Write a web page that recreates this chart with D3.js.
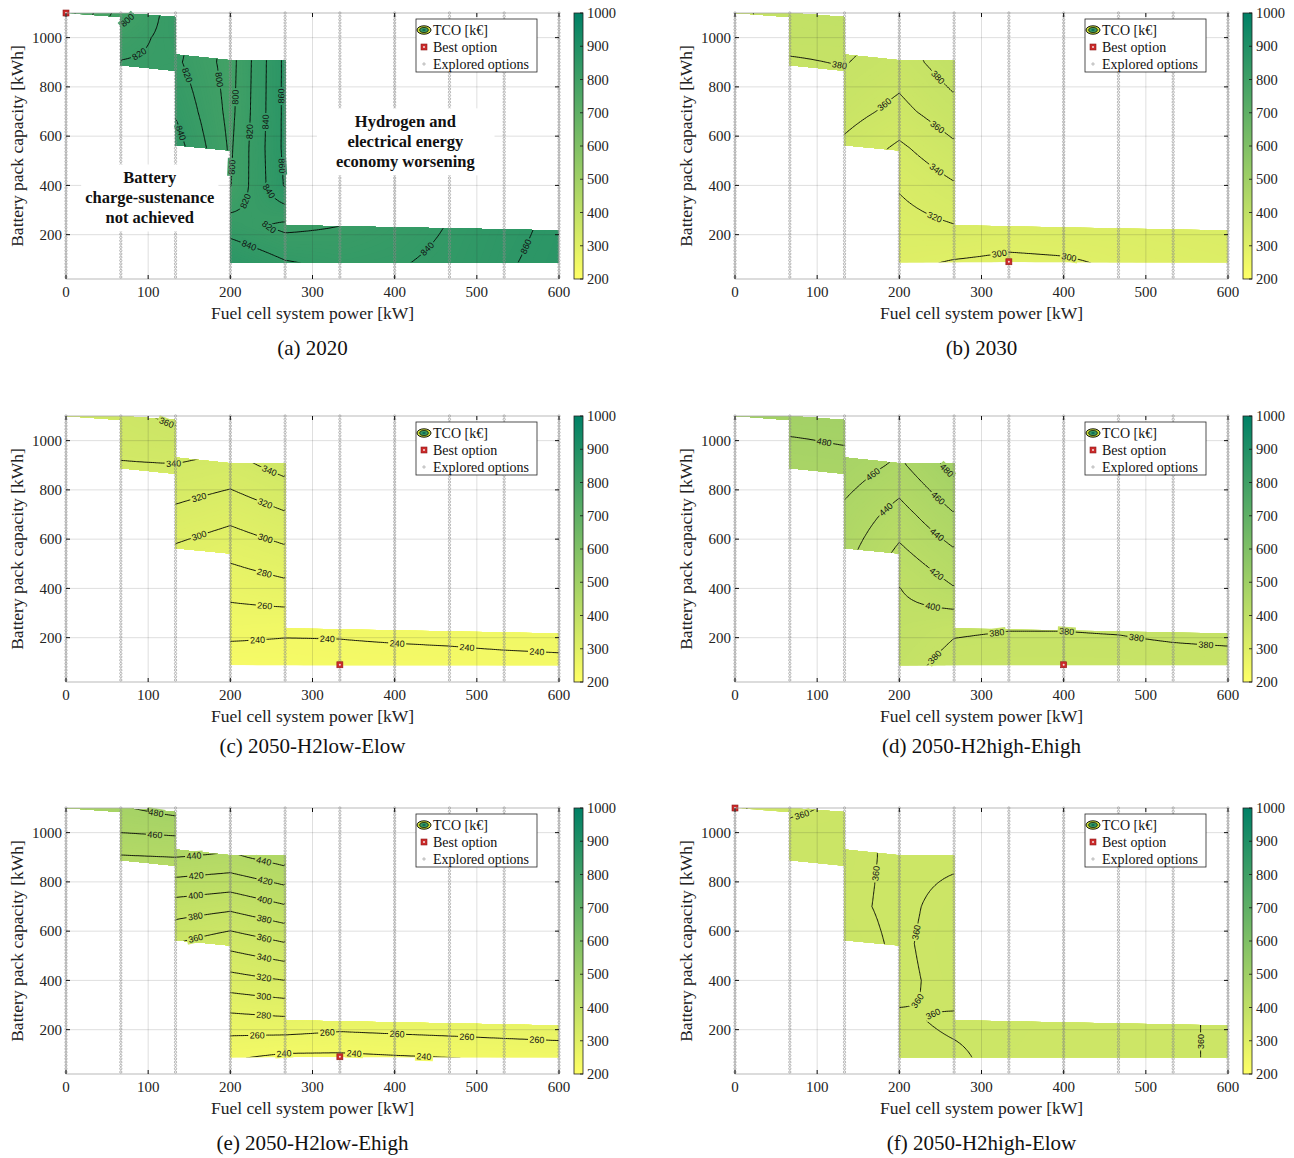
<!DOCTYPE html>
<html>
<head>
<meta charset="utf-8">
<script src="https://cdn.jsdelivr.net/npm/d3@7"></script>
<style>
  body { margin: 0; background: #fff; }
  svg text { font-family: "Liberation Serif", "Times New Roman", serif; }
</style>
</head>
<body>
<svg id="fig" width="1294" height="1158"></svg>
<script>
// explored fuel cell system sizes [kW] = columns of the TCO tables
const fcPower = [0, 66.7, 133.3, 200, 266.7, 333.3, 400, 466.7, 533.3, 600];
// battery capacities [kWh] at which the TCO was read = rows of the tables (bottom to top)
const capKnots = [85, 235, 400, 550, 700, 900, 1000, 1100];
// explored battery sizes (regular design grid)
const capMin = 28, capMax = 1100, capCount = 81;

// TCO [k€], null = outside the charge-sustaining region
const tco2020 = [
  [null, null, null, 860, 842, 835, 838, 845, 858, 866],
  [null, null, null, 830, 815, 820, 830, 841, 855, 864],
  [null, null, 845, 799, 862, null, null, null, null, null],
  [null, null, 850, 797, 865, null, null, null, null, null],
  [null, 822, 838, 794, 865, null, null, null, null, null],
  [null, 821, 824, 792, 865, null, null, null, null, null],
  [730, 810, 828, 792, 865, null, null, null, null, null],
  [730, 790, 832, null, null, null, null, null, null, null]
];
const tco2030 = [
  [null, null, null, 305, 298, 295, 297, 303, 306, 309],
  [null, null, null, 312, 319, 312, 313, 312, 314, 316],
  [null, null, 345, 322, 338, null, null, null, null, null],
  [null, null, 355, 336, 356, null, null, null, null, null],
  [null, 372, 368, 354, 373, null, null, null, null, null],
  [null, 378, 381, 370, 392, null, null, null, null, null],
  [375, 386, 386, 375, 397, null, null, null, null, null],
  [375, 390, 395, null, null, null, null, null, null, null]
];
const tcoH2lowElow = [
  [null, null, null, 227, 229, 232, 232, 233, 234, 235],
  [null, null, null, 246.5, 243.5, 243, 245, 246, 248, 249],
  [null, null, 285, 267, 274, null, null, null, null, null],
  [null, null, 296, 286, 296, null, null, null, null, null],
  [null, 330, 315, 306, 318, null, null, null, null, null],
  [null, 338, 339, 333, 347, null, null, null, null, null],
  [352, 348, 354, 345, 360, null, null, null, null, null],
  [352, 355, 364, null, null, null, null, null, null, null]
];
const tcoH2highEhigh = [
  [null, null, null, 386, 374, 372, 372, 372, 373, 373],
  [null, null, null, 392, 382, 380.5, 380.5, 381.5, 384, 386],
  [null, null, 435, 399.5, 419, null, null, null, null, null],
  [null, null, 447, 416, 438, null, null, null, null, null],
  [null, 465, 455, 432, 459, null, null, null, null, null],
  [null, 470, 472, 456, 487, null, null, null, null, null],
  [492, 478, 482, 465, 495, null, null, null, null, null],
  [492, 490, 490, null, null, null, null, null, null, null]
];
const tcoH2lowEhigh = [
  [null, null, null, 242, 235, 235, 237.5, 239.5, 242, 244],
  [null, null, null, 272, 275, 270, 272, 274, 276, 278],
  [null, null, 322, 312, 320, null, null, null, null, null],
  [null, null, 360, 347, 359, null, null, null, null, null],
  [null, 430, 391, 385, 398, null, null, null, null, null],
  [null, 438, 440, 436, 449, null, null, null, null, null],
  [470, 460, 463, 455, 470, null, null, null, null, null],
  [470, 478, 488, null, null, null, null, null, null, null]
];
const tcoH2highElow = [
  [null, null, null, 362, 361, 358, 357, 357, 358, 362],
  [null, null, null, 361, 359, 358.5, 357.5, 357.5, 358, 362],
  [null, null, 364, 358, 363, null, null, null, null, null],
  [null, null, 364, 358.5, 364, null, null, null, null, null],
  [null, 364, 362, 358, 363, null, null, null, null, null],
  [null, 364, 363, 358, 358.5, null, null, null, null, null],
  [335, 363, 363, 358, 358, null, null, null, null, null],
  [335, 358, 362, null, null, null, null, null, null, null]
];

// boundary of the charge-sustaining region
const regionPower = [0, 66.7, 133.3, 133.3, 200, 266.7, 266.7, 600, 600, 200, 200, 133.3, 133.3, 66.7, 66.7];
const regionCap   = [1100, 1100, 1084, 931, 908, 908, 238, 217, 88, 88, 542, 563, 866, 888, 1084];

const captions = ['(a) 2020', '(b) 2030', '(c) 2050-H2low-Elow', '(d) 2050-H2high-Ehigh', '(e) 2050-H2low-Ehigh', '(f) 2050-H2high-Elow'];
const tables = [tco2020, tco2030, tcoH2lowElow, tcoH2highEhigh, tcoH2lowEhigh, tcoH2highElow];
const bestPower = [0, 333.3, 333.3, 400, 333.3, 0];
const bestCap = [1100, 90, 90, 90, 90, 1100];

const xTicks = [0, 100, 200, 300, 400, 500, 600];
const yTicks = [200, 400, 600, 800, 1000];
const cbTicks = [200, 300, 400, 500, 600, 700, 800, 900, 1000];
const contourLevels = [240, 260, 280, 300, 320, 340, 360, 380, 400, 420, 440, 460, 480, 500,
                       720, 740, 760, 780, 800, 820, 840, 860, 880];

const noteText = [['Battery', 'charge-sustenance', 'not achieved'], ['Hydrogen and', 'electrical energy', 'economy worsening']];
const notePower = [102, 413];
const noteCap = [350, 578];
const notePad = [4, 19];

// layout
const colLeft = [66, 735], plotW = 493;
const rowTop = [13, 416, 808], plotH = 266;
const captionY = [348, 746, 1143];

const svg = d3.select('#fig');
const colour = d3.scaleLinear().domain([200, 1000]).range(['#ffff66', '#008066']).clamp(true); // MATLAB summer

const defs = svg.append('defs');
const grad = defs.append('linearGradient').attr('id', 'summer')
  .attr('x1', 0).attr('y1', 1).attr('x2', 0).attr('y2', 0);
grad.append('stop').attr('offset', 0).attr('stop-color', colour(200));
grad.append('stop').attr('offset', 1).attr('stop-color', colour(1000));

// sampling grid for contours
const GX0 = -10, GDX = 2.5, GN = 249;
const GY0 = 10, GDY = 5, GM = 221;

function makeField(table) {
  const filled = table.map(r => r.slice());
  for (let c = 0; c < fcPower.length; c++) {
    for (let r = 0; r < capKnots.length; r++) {
      if (filled[r][c] == null) {
        let best = null, bd = Infinity;
        table.forEach((row, k) => {
          if (row[c] != null && Math.abs(k - r) < bd) { bd = Math.abs(k - r); best = row[c]; }
        });
        filled[r][c] = best;
      }
    }
  }
  return (x, y) => {
    x = Math.max(0, Math.min(600, x));
    y = Math.max(85, Math.min(1100, y));
    const i = Math.max(0, Math.min(fcPower.length - 2, d3.bisectRight(fcPower, x) - 1));
    const j = Math.max(0, Math.min(capKnots.length - 2, d3.bisectRight(capKnots, y) - 1));
    const tx = (x - fcPower[i]) / (fcPower[i + 1] - fcPower[i]);
    const ty = (y - capKnots[j]) / (capKnots[j + 1] - capKnots[j]);
    return (1 - tx) * (1 - ty) * filled[j][i] + tx * (1 - ty) * filled[j][i + 1]
      + (1 - tx) * ty * filled[j + 1][i] + tx * ty * filled[j + 1][i + 1];
  };
}

function drawPanel(k) {
  const col = k % 2, row = Math.floor(k / 2);
  const x0 = colLeft[col], y0 = rowTop[row];
  const xS = d3.scaleLinear().domain([0, 600]).range([x0, x0 + plotW]);
  const yS = d3.scaleLinear().domain([20, 1100]).range([y0 + plotH, y0]);
  const g = svg.append('g');
  const f = makeField(tables[k]);

  const values = new Float64Array(GN * GM);
  for (let j = 0; j < GM; j++)
    for (let i = 0; i < GN; i++)
      values[j * GN + i] = f(GX0 + i * GDX, GY0 + j * GDY);

  const toPx = c => [xS(GX0 + (c[0] - 0.5) * GDX), yS(GY0 + (c[1] - 0.5) * GDY)];
  const pathOf = mp => mp.coordinates.map(poly => poly.map(ring =>
    'M' + ring.map(c => { const q = toPx(c); return q[0].toFixed(1) + ',' + q[1].toFixed(1); }).join('L') + 'Z'
  ).join('')).join('');

  const regionPx = regionPower.map((v, i) => [xS(v), yS(regionCap[i])]);
  const clipId = 'region' + k;
  defs.append('clipPath').attr('id', clipId)
    .append('polygon').attr('points', regionPx.map(q => q.join(',')).join(' '));

  // filled contour
  const fillG = g.append('g').attr('clip-path', `url(#${clipId})`);
  const [lo, hi] = d3.extent(values);
  const t0 = Math.floor(lo / 2) * 2;
  fillG.append('polygon').attr('points', regionPx.map(q => q.join(',')).join(' ')).attr('fill', colour(t0));
  const gen = d3.contours().size([GN, GM]);
  for (let t = t0 + 2; t < hi; t += 2) {
    fillG.append('path').attr('d', pathOf(gen.contour(values, t)))
      .attr('fill', colour(t + 1)).attr('fill-rule', 'evenodd');
  }

  // contour lines + inline labels
  const labelG = g.append('g');
  function placeLabels(pts, level) {
    const inside = pts.map(q => d3.polygonContains(regionPx, q));
    let start = inside.indexOf(false);
    if (start < 0) start = 0;
    const n = pts.length, runs = [];
    let run = [];
    for (let s = 0; s <= n; s++) {
      const idx = (start + s) % n;
      if (s < n && inside[idx]) run.push(pts[idx]);
      else { if (run.length > 1) runs.push(run); run = []; }
    }
    runs.forEach(r => {
      const cum = [0];
      for (let i = 1; i < r.length; i++) cum.push(cum[i - 1] + Math.hypot(r[i][0] - r[i - 1][0], r[i][1] - r[i - 1][1]));
      const L = cum[cum.length - 1];
      if (L < 16) return;
      const at = s => {
        s = Math.max(0, Math.min(L, s));
        let i = d3.bisectRight(cum, s) - 1;
        i = Math.max(0, Math.min(r.length - 2, i));
        const seg = cum[i + 1] - cum[i] || 1, u = (s - cum[i]) / seg;
        return [r[i][0] + u * (r[i + 1][0] - r[i][0]), r[i][1] + u * (r[i + 1][1] - r[i][1])];
      };
      const spots = L < 45 ? [L / 2] : d3.range(20, L - 10, 70);
      spots.forEach(s => {
        const q = at(s), a = at(s - 5), b = at(s + 5);
        let ang = Math.atan2(b[1] - a[1], b[0] - a[0]) * 180 / Math.PI;
        if (ang > 90) ang -= 180;
        if (ang < -90) ang += 180;
        const lab = labelG.append('g').attr('transform', `translate(${q[0].toFixed(1)},${q[1].toFixed(1)}) rotate(${ang.toFixed(1)})`);
        const bg = lab.append('rect');
        const tx = lab.append('text').text(level).attr('text-anchor', 'middle').attr('dy', '0.35em')
          .style('font-family', '"Liberation Sans", Arial, sans-serif').style('font-size', '9px').attr('fill', '#111');
        const w = tx.node().getComputedTextLength();
        bg.attr('x', -w / 2 - 1.5).attr('y', -4.5).attr('width', w + 3).attr('height', 9)
          .attr('fill', colour(f(xS.invert(q[0]), yS.invert(q[1]))));
      });
    });
  }
  contourLevels.filter(l => l > lo && l < hi).forEach(l => {
    const mp = gen.contour(values, l);
    fillG.append('path').attr('d', pathOf(mp)).attr('fill', 'none')
      .attr('stroke', '#000').attr('stroke-width', 0.9);
    mp.coordinates.forEach(poly => poly.forEach(ring => placeLabels(ring.map(toPx), l)));
  });

  // grid
  const gridG = g.append('g').attr('stroke', '#262626').attr('stroke-opacity', 0.15).attr('stroke-width', 1);
  xTicks.slice(1, -1).forEach(v => gridG.append('line')
    .attr('x1', xS(v)).attr('x2', xS(v)).attr('y1', y0).attr('y2', y0 + plotH));
  yTicks.forEach(v => gridG.append('line')
    .attr('x1', x0).attr('x2', x0 + plotW).attr('y1', yS(v)).attr('y2', yS(v)));

  // explored options
  const capGrid = d3.range(capCount).map(i => capMin + i * (capMax - capMin) / (capCount - 1));
  const dotG = g.append('g').attr('fill', 'none').attr('stroke', '#8a8a8a').attr('stroke-width', 0.6);
  fcPower.forEach(p => capGrid.forEach(c => dotG.append('circle')
    .attr('cx', xS(p)).attr('cy', yS(c)).attr('r', 1.15)));

  // best option
  g.append('rect').attr('x', xS(bestPower[k]) - 3).attr('y', yS(bestCap[k]) - 3)
    .attr('width', 6).attr('height', 6).attr('fill', '#cc2a2a').attr('stroke', '#8e1b1b').attr('stroke-width', 0.6);
  g.append('circle').attr('cx', xS(bestPower[k])).attr('cy', yS(bestCap[k])).attr('r', 1)
    .attr('fill', '#f2dede').attr('stroke', 'none');

  // annotations (2020 only)
  if (k === 0) {
    noteText.forEach((lines, n) => {
      const ng = g.append('g');
      const bg = ng.append('rect').attr('fill', '#fff');
      const t = ng.append('text').attr('text-anchor', 'middle').style('font-weight', 'bold').style('font-size', '16.5px')
        .attr('fill', '#111');
      lines.forEach((s, i) => t.append('tspan').attr('x', xS(notePower[n]))
        .attr('y', yS(noteCap[n]) + (i - 1) * 20).attr('dy', '0.35em').text(s));
      const bb = t.node().getBBox();
      bg.attr('x', bb.x - notePad[n]).attr('y', bb.y - 4).attr('width', bb.width + 2 * notePad[n]).attr('height', bb.height + 8);
    });
  }

  // legend
  const lg = g.append('g').attr('transform', `translate(${x0 + plotW - 22 - 121},${y0 + 6})`);
  lg.append('rect').attr('width', 121).attr('height', 53).attr('fill', '#fff')
    .attr('stroke', '#262626').attr('stroke-width', 0.8);
  lg.append('ellipse').attr('cx', 8).attr('cy', 11).attr('rx', 7).attr('ry', 4.2)
    .attr('fill', '#c9dc3c').attr('stroke', '#000').attr('stroke-width', 0.9);
  lg.append('ellipse').attr('cx', 8).attr('cy', 11).attr('rx', 4.3).attr('ry', 2.5)
    .attr('fill', '#3a9a62').attr('stroke', '#000').attr('stroke-width', 0.7);
  lg.append('ellipse').attr('cx', 8).attr('cy', 11).attr('rx', 1.8).attr('ry', 1)
    .attr('fill', '#0d6b55');
  lg.append('rect').attr('x', 5).attr('y', 25).attr('width', 6).attr('height', 6)
    .attr('fill', '#cc2a2a').attr('stroke', '#8e1b1b').attr('stroke-width', 0.6);
  lg.append('circle').attr('cx', 8).attr('cy', 28).attr('r', 1).attr('fill', '#f2dede');
  lg.append('circle').attr('cx', 8).attr('cy', 45).attr('r', 1.15)
    .attr('fill', 'none').attr('stroke', '#8a8a8a').attr('stroke-width', 0.6);
  ['TCO [k€]', 'Best option', 'Explored options'].forEach((s, i) => lg.append('text')
    .attr('x', 17).attr('y', 11 + i * 17).attr('dy', '0.35em').style('font-size', '14px').attr('fill', '#111').text(s));

  // axes box and ticks
  g.append('rect').attr('x', x0).attr('y', y0).attr('width', plotW).attr('height', plotH)
    .attr('fill', 'none').attr('stroke', '#a8a8a8').attr('stroke-width', 0.8);
  const tickG = g.append('g').attr('stroke', '#111').attr('stroke-width', 1);
  xTicks.forEach(v => {
    tickG.append('line').attr('x1', xS(v)).attr('x2', xS(v)).attr('y1', y0 + plotH).attr('y2', y0 + plotH - 4);
    tickG.append('line').attr('x1', xS(v)).attr('x2', xS(v)).attr('y1', y0).attr('y2', y0 + 4);
    g.append('text').attr('x', xS(v)).attr('y', y0 + plotH + 13).attr('dy', '0.35em')
      .attr('text-anchor', 'middle').style('font-size', '15px').attr('fill', '#222').text(v);
  });
  yTicks.forEach(v => {
    tickG.append('line').attr('x1', x0).attr('x2', x0 + 4).attr('y1', yS(v)).attr('y2', yS(v));
    tickG.append('line').attr('x1', x0 + plotW).attr('x2', x0 + plotW - 4).attr('y1', yS(v)).attr('y2', yS(v));
    g.append('text').attr('x', x0 - 4).attr('y', yS(v)).attr('dy', '0.35em')
      .attr('text-anchor', 'end').style('font-size', '15px').attr('fill', '#222').text(v);
  });

  g.append('text').attr('x', x0 + plotW / 2).attr('y', y0 + 300).attr('dy', '0.35em')
    .attr('text-anchor', 'middle').style('font-size', '17.5px').attr('fill', '#222').text('Fuel cell system power [kW]');
  g.append('text').attr('transform', `translate(${x0 - 49},${y0 + plotH / 2}) rotate(-90)`).attr('dy', '0.35em')
    .attr('text-anchor', 'middle').style('font-size', '17.5px').attr('fill', '#222').text('Battery pack capacity [kWh]');

  // colour bar
  const cbX = x0 + plotW + 15;
  const cS = d3.scaleLinear().domain([200, 1000]).range([y0 + plotH, y0]);
  g.append('rect').attr('x', cbX).attr('y', y0).attr('width', 9).attr('height', plotH)
    .attr('fill', 'url(#summer)').attr('stroke', '#222').attr('stroke-width', 0.8);
  cbTicks.forEach(v => {
    g.append('line').attr('x1', cbX + 9).attr('x2', cbX + 6).attr('y1', cS(v)).attr('y2', cS(v))
      .attr('stroke', '#111').attr('stroke-width', 0.8);
    g.append('text').attr('x', cbX + 13).attr('y', cS(v)).attr('dy', '0.35em')
      .style('font-size', '14.5px').attr('fill', '#222').text(v);
  });

  // caption
  g.append('text').attr('x', x0 + plotW / 2).attr('y', captionY[row]).attr('dy', '0.35em')
    .attr('text-anchor', 'middle').style('font-size', '21px').attr('fill', '#111').text(captions[k]);
}

for (let k = 0; k < 6; k++) drawPanel(k);
</script>
</body>
</html>
